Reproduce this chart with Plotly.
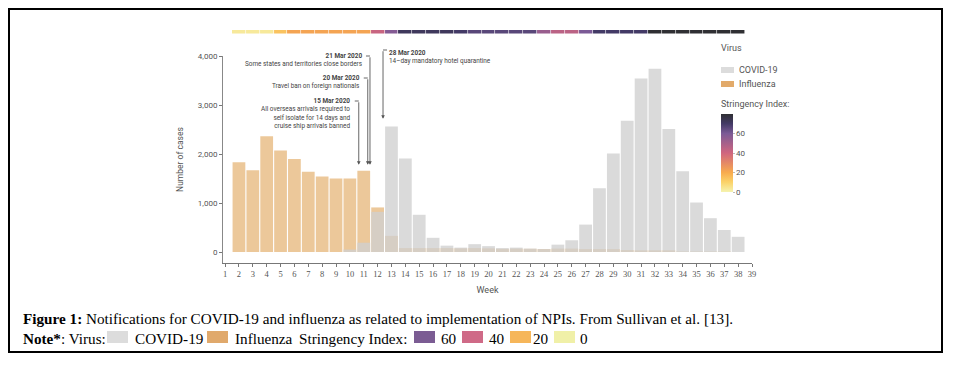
import plotly.graph_objects as go

# ---------------- data ----------------
weeks = list(range(2, 39))
influenza = [1830, 1670, 2360, 2070, 1900, 1640, 1540, 1500, 1500, 1660,
             910, 330, 80, 80, 80, 80, 75, 80, 75, 65, 70, 65, 60, 70, 70,
             60, 60, 60, 40, 35, 35, 35, 10, 10, 10, 10, 0]
covid = [0, 0, 0, 0, 0, 0, 0, 0, 50, 190,
         820, 2560, 1910, 760, 290, 130, 90, 160, 120, 80, 90, 70, 60, 150, 240,
         560, 1300, 2010, 2680, 3540, 3740, 2510, 1650, 1010, 690, 450, 310]
stringency = [3, 3, 3, 14, 22, 22, 22, 22, 22, 22,
              42, 58, 72, 72, 72, 72, 70, 66, 66, 66, 66, 66, 53, 45, 45,
              60, 70, 70, 70, 70, 80, 80, 80, 80, 80, 80, 80]
tick_weeks = list(range(1, 40))
y_ticks = [0, 1000, 2000, 3000, 4000]
strin_ticks = [0, 20, 40, 60]

# events: (week position, arrow target value)
event_weeks = {"15 Mar": 10.64, "20 Mar": 11.29, "21 Mar": 11.45, "28 Mar": 12.39}
event_targets = {"15 Mar": 1780, "20 Mar": 1780, "21 Mar": 1780, "28 Mar": 2720}

# ---------------- geometry helpers (page pixels -> paper) ----------------
OFF = 8  # default page body margin
FW, FH = 958 - OFF, 366 - OFF
L, R, T, B = 223, 752, 28, 263   # in page pixels
W, H = R - L, B - T


def px(x):
    return (x - L) / W


def py(y):
    return (B - y) / H


GRAY_TXT = "#555555"
FONT = "Liberation Sans Narrow, Roboto, sans-serif"
SERIF = "Liberation Serif, DejaVu Serif, serif"

scale = [[0.0, "#f5f3b0"], [0.125, "#fbd36a"], [0.25, "#f8ab4e"],
         [0.5, "#d0667f"], [0.75, "#7b5a96"], [0.875, "#433a66"], [1.0, "#2f2f33"]]

fig = go.Figure()
fig.add_trace(go.Bar(x=weeks, y=influenza, name="Influenza",
                     marker=dict(color="rgba(226,170,100,0.65)", line=dict(width=0)),
                     showlegend=False))
fig.add_trace(go.Bar(x=weeks, y=covid, name="COVID-19",
                     marker=dict(color="rgba(208,208,208,0.78)", line=dict(width=0)),
                     showlegend=False))
fig.add_trace(go.Heatmap(x=weeks, y=[0], z=[stringency], yaxis="y2", xaxis="x",
                         colorscale=scale, zmin=0, zmax=80, xgap=0.6,
                         colorbar=dict(x=px(721), xanchor="left", y=py(153), yanchor="middle",
                                       len=78, lenmode="pixels", thickness=12,
                                       outlinewidth=0, xpad=0, ypad=0,
                                       tickvals=strin_ticks, ticks="outside", ticklen=2,
                                       tickcolor="#bbb", tickfont=dict(size=8, color=GRAY_TXT, family=FONT)),
                         showscale=True, hoverinfo="skip"))

fig.update_layout(
    width=FW, height=FH,
    margin=dict(l=L - OFF, r=FW - (R - OFF), t=T - OFF, b=FH - (B - OFF)),
    paper_bgcolor="white", plot_bgcolor="white",
    barmode="overlay", bargap=0.08,
    showlegend=False,
    xaxis=dict(range=[0.85, 39.0], tickvals=tick_weeks, ticks="outside", ticklen=3,
               tickcolor="#777", showline=True, linecolor="#777", linewidth=1,
               showgrid=False, zeroline=False, automargin=False,
               tickfont=dict(size=8.5, color=GRAY_TXT, family=SERIF),
               title=dict(text="Week", font=dict(size=9, color=GRAY_TXT, family=FONT), standoff=8)),
    yaxis=dict(domain=[0, py(56)], range=[-224, 4000], tickvals=y_ticks, tickformat=",",
               ticks="outside", ticklen=3, tickcolor="#777", showline=True,
               linecolor="#888", linewidth=1, showgrid=False, zeroline=False, automargin=False,
               tickfont=dict(size=8, color=GRAY_TXT, family=FONT),
               title=dict(text="Number of cases", font=dict(size=8.5, color=GRAY_TXT, family=FONT),
                          standoff=12)),
    yaxis2=dict(domain=[py(33.5), py(30)], range=[-0.5, 0.5], visible=False),
)

annotations = []
shapes = []

# event labels
ev_font = dict(size=6.4, color="#444", family=FONT)
annotations += [
    dict(xref="paper", yref="paper", x=px(364), y=py(50), xanchor="right", yanchor="top",
         align="right", showarrow=False, font=ev_font,
         text="<b>21 Mar 2020</b><br>Some states and territories close borders"),
    dict(xref="paper", yref="paper", x=px(362), y=py(72), xanchor="right", yanchor="top",
         align="right", showarrow=False, font=ev_font,
         text="<b>20 Mar 2020</b><br>Travel ban on foreign nationals"),
    dict(xref="paper", yref="paper", x=px(352), y=py(95), xanchor="right", yanchor="top",
         align="right", showarrow=False, font=ev_font,
         text="<b>15 Mar 2020</b><br>All overseas arrivals required to<br>self isolate for 14 days and<br>cruise ship arrivals banned"),
    dict(xref="paper", yref="paper", x=px(387), y=py(47), xanchor="left", yanchor="top",
         align="left", showarrow=False, font=ev_font,
         text="<b>28 Mar 2020</b><br>14\u2013day mandatory hotel quarantine"),
]
# leader arrows (tail offsets in pixels)
tails = {"15 Mar": (101, -1), "20 Mar": (78, -1), "21 Mar": (56, -1), "28 Mar": (50, 1)}
head_px = {"15 Mar": 165, "20 Mar": 165, "21 Mar": 165, "28 Mar": 119}
for k, wk in event_weeks.items():
    top, side = tails[k]
    annotations.append(dict(xref="x", yref="y", x=wk, y=event_targets[k], ax=0,
                            ay=top - head_px[k], text="", showarrow=True, arrowhead=2,
                            arrowsize=0.8, arrowwidth=0.9, arrowcolor="#555", standoff=0))
    xpx = L + (wk - 0.85) / (39.0 - 0.85) * W
    shapes.append(dict(type="line", xref="paper", yref="paper", x0=px(xpx), x1=px(xpx + 4 * side),
                       y0=py(top), y1=py(top), line=dict(color="#555", width=0.9)))

# virus legend (manual)
leg_font = dict(size=9, color=GRAY_TXT, family=FONT)
annotations.append(dict(xref="paper", yref="paper", x=px(719), y=py(48), xanchor="left",
                        yanchor="middle", showarrow=False, text="Virus", font=leg_font))
for label, col, yy in [("COVID-19", "#dcdcdc", 70), ("Influenza", "#e2aa6a", 84)]:
    shapes.append(dict(type="rect", xref="paper", yref="paper", x0=px(721), x1=px(734),
                       y0=py(yy + 3), y1=py(yy - 3), fillcolor=col, line=dict(width=0)))
    annotations.append(dict(xref="paper", yref="paper", x=px(737), y=py(yy), xanchor="left",
                            yanchor="middle", showarrow=False, text=label, font=leg_font))
annotations.append(dict(xref="paper", yref="paper", x=px(719), y=py(104), xanchor="left",
                        yanchor="middle", showarrow=False, text="Stringency Index:", font=leg_font))

# border box (kept just inside the figure area)
shapes.append(dict(type="rect", xref="paper", yref="paper", x0=px(9), x1=px(942),
                   y0=py(352), y1=py(9), line=dict(color="black", width=2), fillcolor="rgba(0,0,0,0)"))

# caption
cap_font = dict(size=15.2, color="black", family=SERIF)
annotations.append(dict(xref="paper", yref="paper", x=px(21), y=py(318), xanchor="left",
                        yanchor="middle", showarrow=False, font=cap_font,
                        text="<b>Figure 1:</b> Notifications for COVID-19 and influenza as related to implementation of NPIs. From Sullivan et al. [13]."))
note_items = [
    (21, "<b>Note*</b>: Virus:"),
    (133, "COVID-19"),
    (233, "Influenza"),
    (297, "Stringency Index:"),
    (439, "60"),
    (487, "40"),
    (531, "20"),
    (578, "0"),
]
for xx, t in note_items:
    annotations.append(dict(xref="paper", yref="paper", x=px(xx), y=py(338), xanchor="left",
                            yanchor="middle", showarrow=False, font=cap_font, text=t))
for x0, col in [(107, "#dcdcdc"), (207, "#e0a96c"), (414, "#7b5c93"), (462, "#cf6a87"),
                (510, "#f6b65a"), (554, "#f0f0a8")]:
    shapes.append(dict(type="rect", xref="paper", yref="paper", x0=px(x0), x1=px(x0 + 21),
                       y0=py(343), y1=py(331), fillcolor=col, line=dict(width=0)))

fig.update_layout(annotations=annotations, shapes=shapes)
fig.write_html("out.html")
